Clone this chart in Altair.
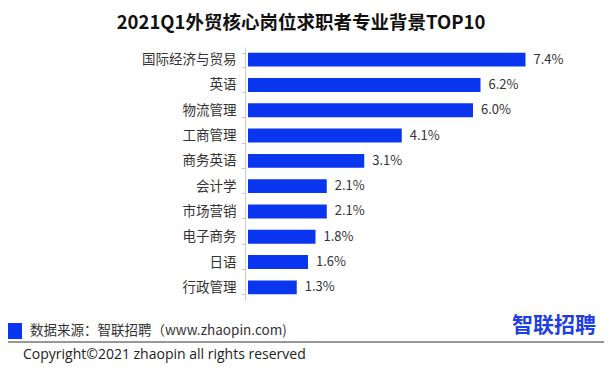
import altair as alt
import pandas as pd

categories = ["国际经济与贸易", "英语", "物流管理", "工商管理", "商务英语",
              "会计学", "市场营销", "电子商务", "日语", "行政管理"]
values = [7.4, 6.2, 6.0, 4.1, 3.1, 2.1, 2.1, 1.8, 1.6, 1.3]
labels = ["7.4%", "6.2%", "6.0%", "4.1%", "3.1%", "2.1%", "2.1%", "1.8%", "1.6%", "1.3%"]

title_text = "2021Q1外贸核心岗位求职者专业背景TOP10"
source_text = "数据来源：智联招聘（www.zhaopin.com)"
logo_text = "智联招聘"
copyright_text = "Copyright©2021 zhaopin all rights reserved"

BLUE = "#0B36F0"
FONT = "Noto Sans CJK SC"

df = pd.DataFrame({"cat": categories, "value": values, "label": labels})

y_enc = alt.Y(
    "cat:N", sort=categories, title=None,
    scale=alt.Scale(paddingInner=0.45, paddingOuter=0.225),
    axis=alt.Axis(labelFontSize=13.5, labelColor="#333333", labelFont=FONT,
                  domainColor="#C8C8C8", tickColor="#C8C8C8", tickSize=4,
                  labelPadding=5, offset=3, tickBand="extent"),
)
x_enc = alt.X("value:Q", scale=alt.Scale(domain=[0, 8]), axis=None)

bars = alt.Chart(df).mark_bar(color=BLUE).encode(x=x_enc, y=y_enc)
vals = alt.Chart(df).mark_text(align="left", baseline="middle", dx=8, fontSize=13,
                               color="#333333", font=FONT).encode(
    x=x_enc, y=y_enc, text="label:N")

def txt(s, x, y, baseline="middle", **kw):
    return alt.Chart(pd.DataFrame({"t": [s]})).mark_text(baseline=baseline, **kw).encode(
        x=alt.value(x), y=alt.value(y), text="t:N")

title = txt(title_text, 53, -24, align="center", fontSize=18.5, fontWeight="bold",
            color="#111111", font=FONT)
source = txt(source_text, -218, 284, align="left", fontSize=13.5, color="#333333", font=FONT)
logo = txt(logo_text, 264, 279, align="left", fontSize=21, fontWeight="bold",
           color="#1F3FE0", font=FONT)
copyright_ = txt(copyright_text, -225, 315, baseline="bottom", align="left", fontSize=14,
                 color="#222222", font="Open Sans")

square = alt.Chart(pd.DataFrame({"a": [0]})).mark_rect(color=BLUE).encode(
    x=alt.value(-244), x2=alt.value(-226), y=alt.value(276), y2=alt.value(292))
line = alt.Chart(pd.DataFrame({"a": [0]})).mark_rule(color="#333333", strokeWidth=1).encode(
    x=alt.value(-248), x2=alt.value(359), y=alt.value(295))

chart = alt.layer(bars, vals, title, source, logo, copyright_, square, line).properties(
    width=300, height=253,
    background="white",
    autosize=alt.AutoSizeParams(type="none"),
    padding={"left": 240, "top": 39, "right": 56, "bottom": 63},
).configure_view(stroke=None)

chart.save("out.html", embed_options={"renderer": "svg", "actions": False})
